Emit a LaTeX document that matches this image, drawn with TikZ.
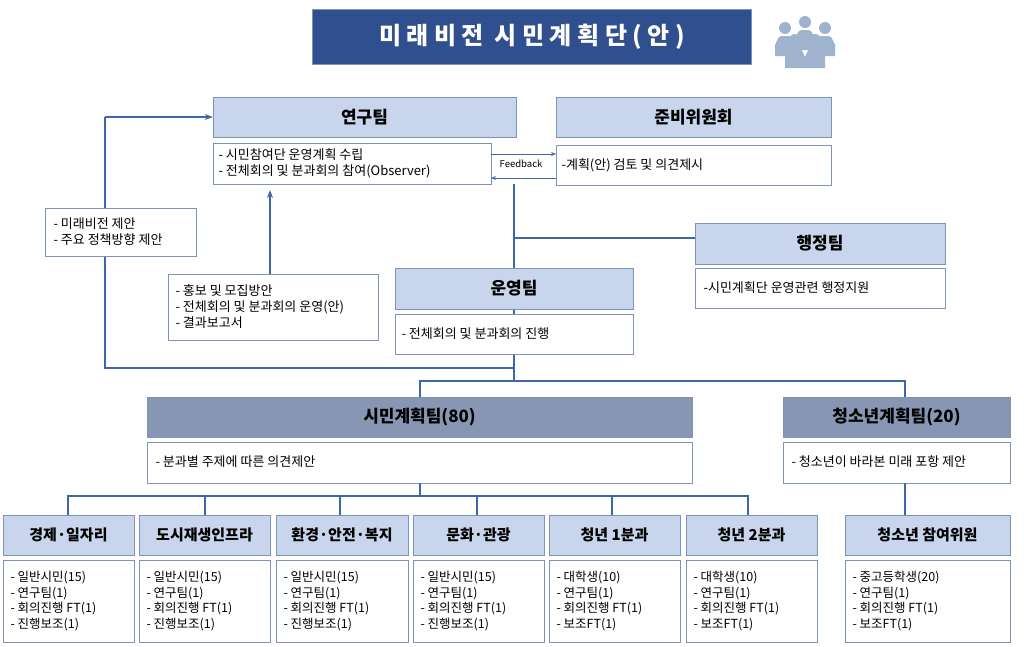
\documentclass[tikz,border=0pt]{standalone}
\usepackage{fontspec}
\setmainfont{Noto Sans CJK KR}
\usetikzlibrary{arrows.meta}
\definecolor{hd}{HTML}{C9D5EC}
\definecolor{bd}{HTML}{7F93B8}
\definecolor{dk}{HTML}{2F4F8F}
\definecolor{md}{HTML}{8797B3}
\definecolor{ln}{HTML}{3F67A8}
\definecolor{ic}{HTML}{9FB3CF}
\begin{document}
\begin{tikzpicture}[x=1pt,y=-1pt,
 hdr/.style={draw=bd,fill=hd,minimum height=40pt,inner sep=0pt},
 hf/.style={font=\fontsize{17}{19}\selectfont\bfseries},
 bf/.style={font=\fontsize{15}{18}\selectfont\bfseries},
 bdy/.style={draw=bd,fill=white,inner sep=0pt},
 txt/.style={font=\fontsize{13}{16}\selectfont,align=left,anchor=west},
 stxt/.style={font=\fontsize{12.5}{15.5}\selectfont,align=left,anchor=west},
 cn/.style={draw=ln,line width=1.5pt},
 fb/.style={draw=ln,-{Stealth[length=5pt]}}]
\useasboundingbox (0,0) rectangle (1024,646);
\fill[white] (0,0) rectangle (1024,646);
\newcommand\bx[6]{\node[#6,minimum width=#3-#1,minimum height=#4-#2] (#5) at ({(#1+#3)/2},{(#2+#4)/2}) {};}
% title
\node[fill=dk,draw=bd,minimum width=439,minimum height=55,text=white,font=\fontsize{24}{26}\selectfont\bfseries] (title) at (532,37) {미 래 비 전 \ 시 민 계 획 단 ( 안 )};
% icon
\foreach \cx/\cy in {785/28,805/22,825/28,795/40,815/40}{
 \fill[ic] (\cx,\cy) circle (6);
 \fill[ic] (\cx-10,\cy+28) -- (\cx-10,\cy+16) to[out=-90,in=180] (\cx-4,\cy+8) -- (\cx+4,\cy+8) to[out=0,in=-90] (\cx+10,\cy+16) -- (\cx+10,\cy+28) -- cycle;}
% connectors drawn first
\draw[cn] (514,184) -- (514,381);
\draw[cn] (514,238) -- (695,238);
\draw[cn] (514,368) -- (105,368) -- (105,117);
\draw[cn] (420,397) -- (420,381) -- (905,381) -- (905,397);
% 연구팀
\bx{213}{97}{516}{137}{yh}{hdr} \node[hf] at (yh) {연구팀};
\bx{213}{143}{491}{184}{yb}{bdy}
\node[txt] at (215,163) {- 시민참여단 운영계획 수립\\- 전체회의 및 분과회의 참여(Observer)};
% 준비위원회
\bx{556}{97}{831}{137}{jh}{hdr} \node[hf] at (jh) {준비위원회};
\bx{556}{145}{831}{185}{jb}{bdy}
\node[txt] at (558,165) {-계획(안) 검토 및 의견제시};
\draw[fb] (491,154) -- (556,154);
\draw[fb] (556,178) -- (491,178);
\node[font=\fontsize{9.5}{10}\selectfont] (fbl) at (521,164) {Feedback};
% 행정팀
\bx{695}{223}{945}{264}{hh}{hdr} \node[hf] at (hh) {행정팀};
\bx{695}{268}{945}{308}{hb}{bdy}
\node[txt] at (700,288) {-시민계획단 운영관련 행정지원};
% 운영팀
\bx{395}{268}{633}{309}{uh}{hdr} \node[hf] at (uh) {운영팀};
\bx{395}{314}{633}{354}{ub}{bdy}
\node[txt] at (398,334) {- 전체회의 및 분과회의 진행};
\draw[cn,-{Stealth[length=8pt]}] (105,117) -- (yh.west);
\draw[cn,-{Stealth[length=8pt]}] (270,274) -- (270,190);
\bx{45}{208}{196}{256}{lb}{bdy}
\node[txt] at (50,232) {- 미래비전 제안\\- 주요 정책방향 제안};
\bx{168}{274}{378}{340}{mb}{bdy}
\node[txt] at (172,307) {- 홍보 및 모집방안\\- 전체회의 및 분과회의 운영(안)\\- 결과보고서};
% 시민계획팀
\bx{147}{397}{692}{437}{sh}{hdr,fill=md} \node[hf] at (sh) {시민계획팀(80)};
\bx{147}{442}{692}{483}{sb}{bdy}
\node[txt] at (152,462) {- 분과별 주제에 따른 의견제안};
\bx{783}{397}{1010}{437}{ch}{hdr,fill=md} \node[hf] at (ch) {청소년계획팀(20)};
\bx{783}{442}{1010}{483}{cb}{bdy}
\node[txt] at (788,462) {- 청소년이 바라본 미래 포항 제안};
\draw[cn] (420,483) -- (420,496);
\draw[cn] (68,515) -- (68,496) -- (748,496) -- (748,515);
\draw[cn] (905,483) -- (905,515);
% bottom
\foreach \a/\b/\t [count=\i] in {3/134/경제·일자리,139/270/도시재생인프라,276/408/환경·안전·복지,413/544/문화·관광,549/680/청년 1분과,686/817/청년 2분과}{
 \bx{\a}{515}{\b}{555}{bh\i}{hdr}
 \node[bf] at (bh\i) {\t};
 \bx{\a}{560}{\b}{642}{bb\i}{bdy}}
\bx{845}{515}{1010}{555}{th}{hdr} \node[bf] at (th) {청소년 참여위원};
\bx{845}{560}{1010}{642}{tb}{bdy}
\foreach \a/\l in {3/일반시민(15),139/일반시민(15),276/일반시민(15),413/일반시민(15)}{
 \node[stxt] at (\a+4,601) {- \l\\- 연구팀(1)\\- 회의진행 FT(1)\\- 진행보조(1)};}
\foreach \a/\l in {549/대학생(10),686/대학생(10),845/중고등학생(20)}{
 \node[stxt] at (\a+4,601) {- \l\\- 연구팀(1)\\- 회의진행 FT(1)\\- 보조FT(1)};}
\foreach \x in {205,340,477,612}{\draw[cn] (\x,496) -- (\x,515);}
\end{tikzpicture}
\end{document}
